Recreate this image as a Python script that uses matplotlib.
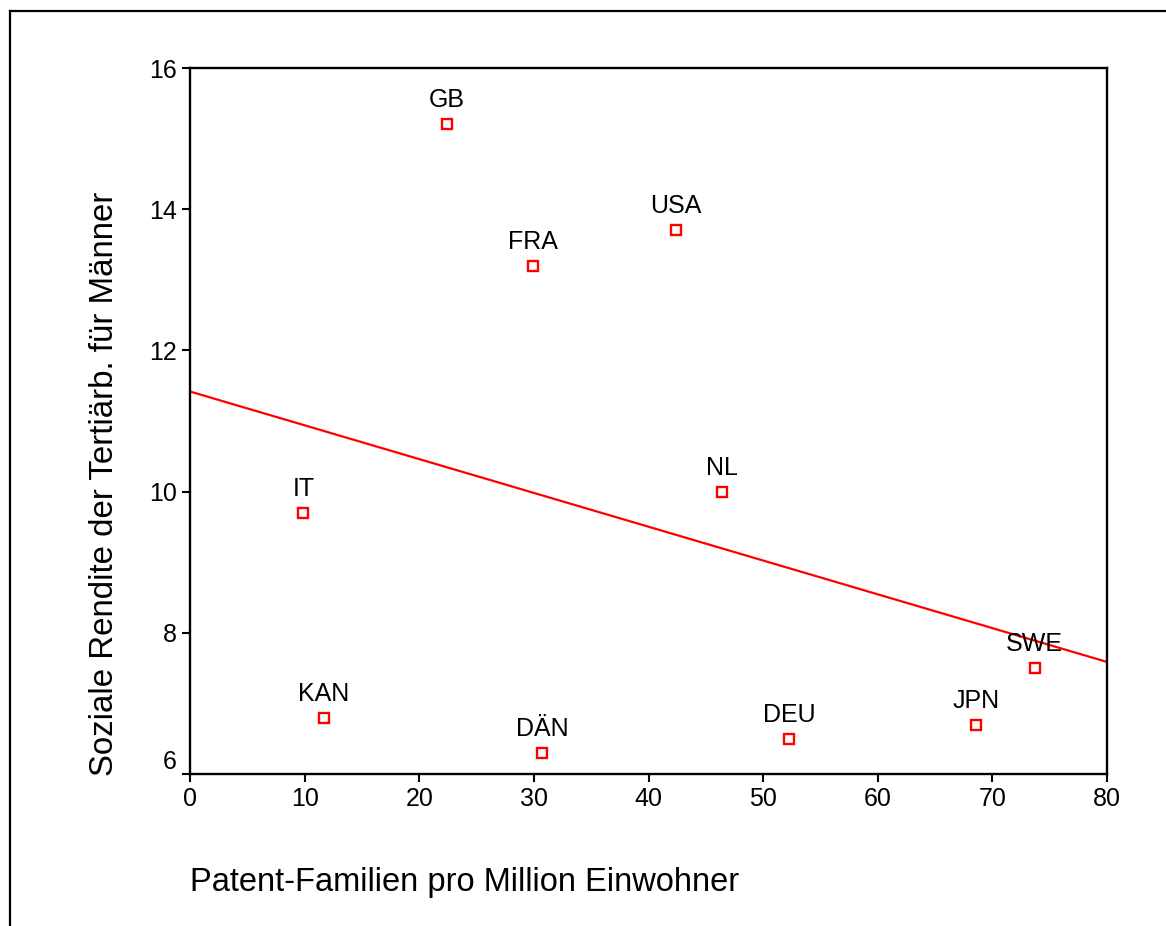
import numpy as np
import matplotlib
matplotlib.use("Agg")
import matplotlib.pyplot as plt
from matplotlib.lines import Line2D

plt.rcParams['font.family'] = ['Liberation Sans', 'DejaVu Sans']

# -----------------------------
# DATA
# -----------------------------
countries = ["GB", "USA", "FRA", "NL", "IT", "SWE", "KAN", "DÄN", "DEU", "JPN"]
patents = [22.4, 42.4, 29.9, 46.4, 9.9, 73.7, 11.7, 30.7, 52.3, 68.6]
returns = [15.2, 13.7, 13.2, 10.0, 9.7, 7.5, 6.8, 6.3, 6.5, 6.7]

x_ticks = [0, 10, 20, 30, 40, 50, 60, 70, 80]
y_ticks = [6, 8, 10, 12, 14, 16]

# -----------------------------
# FIGURE
# -----------------------------
fig = plt.figure(figsize=(11.66, 9.26), dpi=100)
ax = fig.add_axes([190 / 1166, 1 - 774 / 926, (1107 - 190) / 1166, (774 - 68) / 926])

# regression line
slope, intercept = np.polyfit(patents, returns, 1)
xs = np.array([0, 80])
ax.plot(xs, intercept + slope * xs, color="red", linewidth=1.6, zorder=2)

ax.plot(patents, returns, linestyle="none", marker="s", markersize=7,
        markerfacecolor="white", markeredgecolor="red", markeredgewidth=1.7, zorder=3)

for name, xv, yv in zip(countries, patents, returns):
    ax.annotate(name, (xv, yv), xytext=(0, 17), textcoords="offset pixels",
                ha="center", va="baseline", fontsize=18, zorder=4)

ax.set_xlim(0, 80)
ax.set_ylim(6, 16)
ax.set_xticks(x_ticks)
ax.set_yticks(y_ticks)
ax.tick_params(direction="out", length=5.5, width=1.5, labelsize=18, pad=4)
for sp in ax.spines.values():
    sp.set_linewidth(1.7)

# bottom y label sits above the x axis
for lbl in ax.get_yticklabels():
    if lbl.get_text() == "6":
        lbl.set_va("bottom")

fig.text(190 / 1166, 1 - 882 / 926, "Patent-Familien pro Million Einwohner",
         ha="left", va="center", fontsize=23.5)
fig.text(105 / 1166, 1 - 776 / 926, "Soziale Rendite der Tertiärb. für Männer",
         rotation=90, ha="center", va="bottom", fontsize=23.8)

# frame around the figure
fig.add_artist(Line2D([10 / 1166, 10 / 1166], [0, 1 - 11 / 926],
                      transform=fig.transFigure, color="black", linewidth=1.6))
fig.add_artist(Line2D([10 / 1166, 1], [1 - 11 / 926, 1 - 11 / 926],
                      transform=fig.transFigure, color="black", linewidth=1.6))

fig.savefig("out.png", dpi=100)
